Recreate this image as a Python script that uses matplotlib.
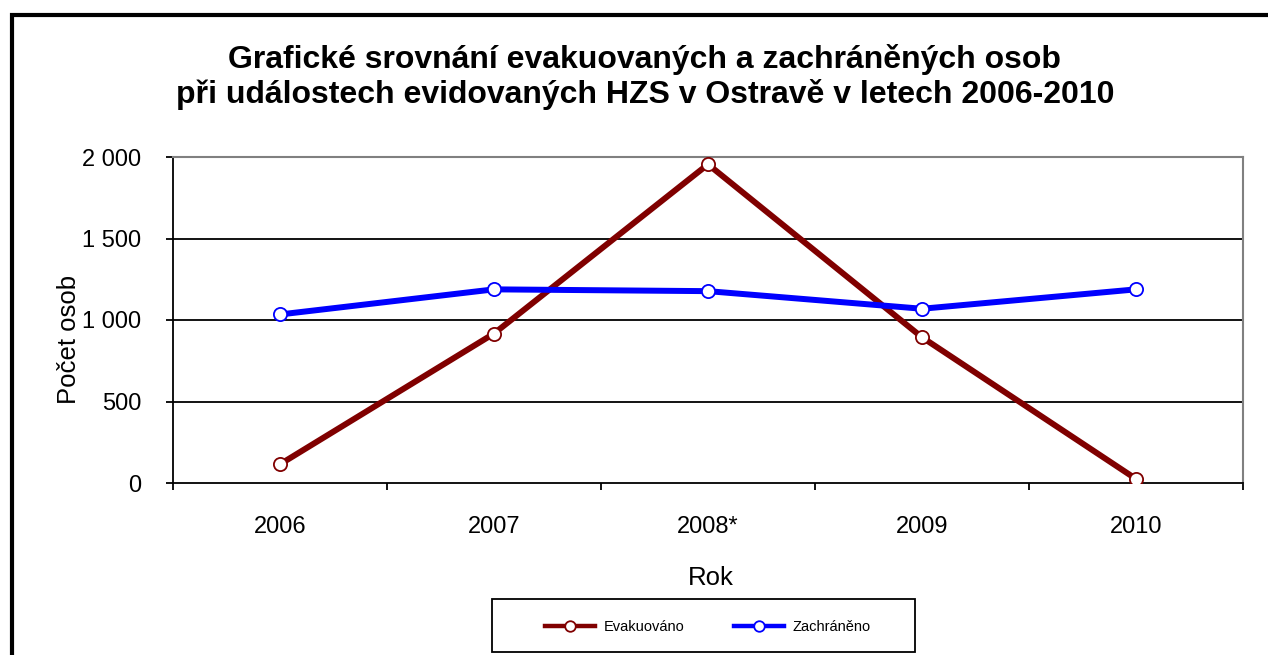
import matplotlib
matplotlib.use("Agg")
import matplotlib.pyplot as plt
from matplotlib.patches import Rectangle
from matplotlib.ticker import FuncFormatter, FixedLocator
import numpy as np

plt.rcParams['font.family'] = ['Liberation Sans', 'DejaVu Sans']

roky = ['2006', '2007', '2008*', '2009', '2010']
evakuovano = [115, 917, 1955, 894, 25]
zachraneno = [1034, 1188, 1177, 1069, 1188]

fig = plt.figure(figsize=(12.68, 6.55), dpi=100)
ax = fig.add_axes([173/1268, 1-483/655, 1070/1268, 326/655])

x = np.arange(len(roky))
ax.plot(x, evakuovano, color='#800000', lw=4.3, marker='o', ms=9.5,
        mfc='white', mec='#800000', mew=1.3, label='Evakuováno', zorder=3)
ax.plot(x, zachraneno, color='#0000ff', lw=4.3, marker='o', ms=9.5,
        mfc='white', mec='#0000ff', mew=1.3, label='Zachráněno', zorder=3)

ax.set_xlim(-0.5, len(roky) - 0.5)
ax.set_ylim(0, 2000)
ax.set_yticks([0, 500, 1000, 1500, 2000])
ax.yaxis.set_major_formatter(FuncFormatter(lambda v, p: f'{int(v):,}'.replace(',', ' ')))
ax.set_xticks(x)
ax.set_xticklabels(roky)
ax.xaxis.set_minor_locator(FixedLocator(np.arange(-0.5, len(roky), 1)))
ax.tick_params(axis='x', which='major', length=0, pad=24, labelsize=17)
ax.tick_params(axis='x', which='minor', length=5, width=1.3, direction='out')
ax.tick_params(axis='y', length=5, width=1.3, direction='out', pad=18, labelsize=17)

for v in [500, 1000, 1500]:
    ax.axhline(v, color='black', lw=1.3, zorder=1)
ax.spines['top'].set_color('#808080')
ax.spines['right'].set_color('#808080')
ax.spines['top'].set_linewidth(1.5)
ax.spines['right'].set_linewidth(1.5)
ax.spines['left'].set_linewidth(1.3)
ax.spines['bottom'].set_linewidth(1.3)

ax.set_ylabel('Počet osob', fontsize=18.5)
ax.yaxis.set_label_coords(-0.086, 0.439)
ax.set_xlabel('Rok', fontsize=18.5)
ax.xaxis.set_label_coords(0.503, -0.2546)

fig.text(645/1268, 1-77/655,
         'Grafické srovnání evakuovaných a zachráněných osob\n'
         'při událostech evidovaných HZS v Ostravě v letech 2006-2010',
         ha='center', va='center', fontsize=23, fontweight='bold', linespacing=1.2)

# legenda s rámečkem
fig.patches.append(Rectangle((492/1268, 1-652/655), 423/1268, 53/655,
                             transform=fig.transFigure, fill=False,
                             edgecolor='black', lw=1.3))
leg = fig.legend(loc='center', bbox_to_anchor=(708/1268, 1-627/655), ncol=2,
                 frameon=False, fontsize=10.5, handlelength=3.4, handletextpad=0.6,
                 columnspacing=3.4, markerscale=0.8)
for h in leg.legend_handles:
    h.set_linewidth(3.2)

# vnější rám
fig.patches.append(Rectangle((11.5/1268, -0.1), 1.2, (655-15.5)/655 + 0.1,
                             transform=fig.transFigure, fill=False,
                             edgecolor='black', lw=3, clip_on=False))

fig.savefig('out.png', dpi=100)
